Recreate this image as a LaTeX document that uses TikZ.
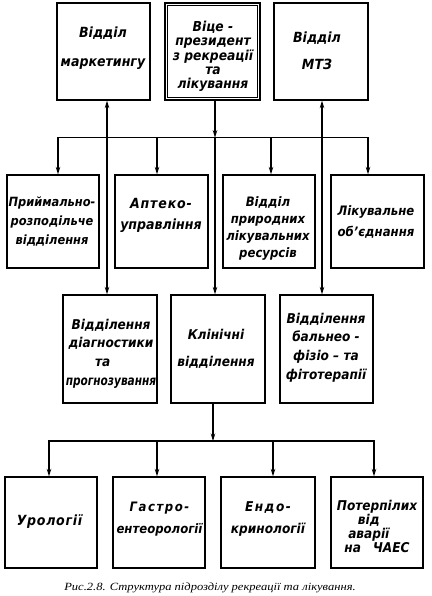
\documentclass[tikz,border=0pt]{standalone}
\usepackage{fontspec}
\setmainfont{Liberation Serif}
\newfontfamily\boxfont{DejaVu Sans Condensed Bold Oblique}
\usetikzlibrary{arrows.meta}
\newcommand\fs[2]{\boxfont\fontsize{#1}{#2}\selectfont}
\newcommand\wide[2]{{\addfontfeature{LetterSpace=#1}#2}}
\begin{document}
\begin{tikzpicture}[x=1pt,y=-1pt,
  box/.style={draw, line width=1.3pt, rectangle, inner sep=0pt},
  txt/.style={align=center, inner sep=0pt, yshift=-3pt},
  tip/.tip={Stealth[length=7.5pt,width=4.5pt]},
  ln/.style={line width=1.1pt},
  arr/.style={line width=1.1pt, -tip},
  arrs/.style={line width=1.1pt, tip-tip}]
\useasboundingbox (0,0) rectangle (431,596);
\fill[white] (0,0) rectangle (431,596);

% top row
\node[box, minimum width=93pt, minimum height=97pt] (mk) at (103.5,51.5) {};
\node[txt, font=\fs{14}{29}] (mk-t) at (103,45) {Відділ\\маркетингу};
\node[box, line width=1.8pt, minimum width=95pt, minimum height=97pt] (vp) at (212.5,51.5) {};
\draw[line width=0.8pt] ([shift={(3.5,3.5)}]vp.north west) rectangle ([shift={(-3.5,-3.5)}]vp.south east);
\node[txt, font=\fs{13.7}{14.3}] (vp-t) at (213,53.5) {Віце -\\президент\\з рекреації\\та\\лікування};
\node[box, minimum width=94pt, minimum height=97pt] (mtz) at (321,51.5) {};
\node[txt, font=\fs{14}{27}] (mtz-t) at (317,47.5) {Відділ\\МТЗ};

% second row
\node[box, minimum width=92pt, minimum height=93pt] (pr) at (53,221.5) {};
\node[txt, font=\fs{12.7}{19}] (pr-t) at (52,218.5) {Приймально-\\розподільче\\відділення};
\node[box, minimum width=93pt, minimum height=93pt] (ap) at (161.5,221.5) {};
\node[txt, font=\fs{14}{21}] (ap-t) at (161,212) {\wide{6}{Аптеко-}\\управління};
\node[box, minimum width=92pt, minimum height=93pt] (vr) at (269,221.5) {};
\node[txt, font=\fs{13}{16.7}] (vr-t) at (268,225.5) {Відділ\\природних\\лікувальних\\ресурсів};
\node[box, minimum width=93pt, minimum height=93pt] (lo) at (377.5,221.5) {};
\node[txt, font=\fs{13}{21}] (lo-t) at (376,219) {Лікувальне\\об’єднання};

% third row
\node[box, minimum width=94pt, minimum height=108pt] (dg) at (110,349) {};
\node[txt, font=\fs{13.5}{18.7}] (dg-t) at (111,350.5) {Відділення\\діагностики\\та\hphantom{аа}\\\scalebox{0.87}[1]{прогнозування}};
\node[box, minimum width=94pt, minimum height=108pt] (kl) at (218,349) {};
\node[txt, font=\fs{13.5}{27}] (kl-t) at (216,346) {Клінічні\\відділення};
\node[box, minimum width=93pt, minimum height=108pt] (bf) at (326.5,349) {};
\node[txt, font=\fs{13.5}{18.7}] (bf-t) at (326,344.5) {Відділення\\бальнео -\\фізіо – та\\фітотерапії};

% fourth row
\node[box, minimum width=92pt, minimum height=91pt] (ur) at (51,522.5) {};
\node[txt, font=\fs{14}{16}] (ur-t) at (49.5,519) {\wide{5}{Урології}};
\node[box, minimum width=92pt, minimum height=91pt] (ga) at (159,522.5) {};
\node[txt, font=\fs{13}{22}] (ga-t) at (159.5,516) {\wide{12}{Гастро-}\\ентеорології};
\node[box, minimum width=94pt, minimum height=91pt] (en) at (268,522.5) {};
\node[txt, font=\fs{13.5}{22}] (en-t) at (268,516) {\wide{11}{Ендо-}\\кринології};
\node[box, minimum width=92pt, minimum height=91pt] (po) at (377,522.5) {};
\node[txt, font=\fs{13.5}{14}] (po-t) at (377,523.5) {Потерпілих\\від\hphantom{аа}\\аварії\hphantom{аа}\\на\hspace{12pt}ЧАЕС};

% caption
\node[font=\itshape\fontsize{11}{13}\selectfont, inner sep=0pt] (cap) at (210,588) {\scalebox{1.14}[1]{Рис.2.8. Структура підрозділу рекреації та лікування.}};

% upper bus
\coordinate (t1) at (58,137.7);
\coordinate (t2) at (157,137.7);
\coordinate (t3) at (271,137.7);
\coordinate (t4) at (368,137.7);
\coordinate (tm) at (107,137.7);
\coordinate (tv) at (215,137.7);
\coordinate (tz) at (322,137.7);
\draw[arrs] (t1 |- pr.north) -- (t1) -- (t4) -- (t4 |- lo.north);
\draw[arr] (t2) -- (t2 |- ap.north);
\draw[arr] (t3) -- (t3 |- vr.north);
\draw[arrs] (tm |- dg.north) -- (tm |- mk.south);
\draw[arr] (tv |- vp.south) -- (tv);
\draw[arr] (tv) -- (tv |- kl.north);
\draw[arrs] (tz |- bf.north) -- (tz |- mtz.south);

% lower bus
\coordinate (u0) at (213,441);
\coordinate (u1) at (49,441);
\coordinate (u2) at (157,441);
\coordinate (u3) at (273,441);
\coordinate (u4) at (374,441);
\draw[arr] (kl.south -| u0) -- (u0);
\draw[arrs] (u1 |- ur.north) -- (u1) -- (u4) -- (u4 |- po.north);
\draw[arr] (u2) -- (u2 |- ga.north);
\draw[arr] (u3) -- (u3 |- en.north);
\end{tikzpicture}
\end{document}
